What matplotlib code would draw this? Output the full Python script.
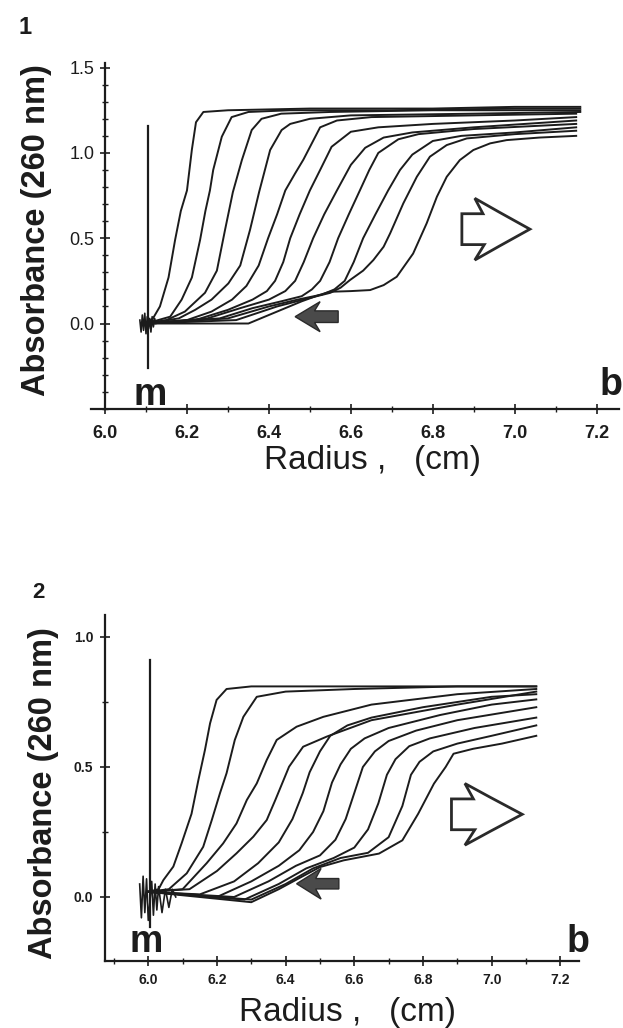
import numpy as np
import matplotlib
matplotlib.use("Agg")
import matplotlib.pyplot as plt
from matplotlib.patches import Polygon
from matplotlib.ticker import MultipleLocator

plt.rcParams['font.family'] = ['Liberation Sans', 'DejaVu Sans']

INK = '#1c1c1c'

# ---------------- panel 1 : scans (radius cm, absorbance 260 nm) ----------------
p1_r = [
    [6.10, 6.117, 6.134, 6.155, 6.171, 6.185, 6.20, 6.212, 6.222, 6.24, 6.30, 6.50, 6.80, 7.00, 7.16],
    [6.10, 6.159, 6.187, 6.212, 6.232, 6.245, 6.256, 6.264, 6.285, 6.309, 6.35, 6.45, 6.70, 7.00, 7.16],
    [6.10, 6.15, 6.195, 6.244, 6.273, 6.293, 6.312, 6.334, 6.358, 6.382, 6.43, 6.55, 6.80, 7.16],
    [6.10, 6.18, 6.22, 6.26, 6.301, 6.33, 6.354, 6.376, 6.403, 6.431, 6.452, 6.50, 6.60, 6.90, 7.16],
    [6.10, 6.20, 6.26, 6.31, 6.345, 6.375, 6.398, 6.42, 6.44, 6.464, 6.484, 6.525, 6.566, 6.65, 6.90, 7.15],
    [6.10, 6.22, 6.30, 6.36, 6.395, 6.415, 6.435, 6.452, 6.475, 6.50, 6.525, 6.553, 6.60, 6.667, 6.80, 7.00, 7.15],
    [6.10, 6.25, 6.33, 6.40, 6.44, 6.464, 6.485, 6.508, 6.535, 6.566, 6.60, 6.635, 6.68, 6.75, 6.90, 7.15],
    [6.10, 6.28, 6.36, 6.43, 6.48, 6.505, 6.525, 6.548, 6.569, 6.595, 6.622, 6.645, 6.667, 6.716, 6.765, 6.90, 7.15],
    [6.10, 6.30, 6.40, 6.47, 6.53, 6.56, 6.585, 6.607, 6.63, 6.66, 6.691, 6.72, 6.75, 6.80, 6.87, 7.00, 7.15],
    [6.10, 6.32, 6.42, 6.50, 6.55, 6.575, 6.598, 6.63, 6.655, 6.68, 6.696, 6.728, 6.761, 6.793, 6.834, 6.883, 7.00, 7.15],
    [6.10, 6.35, 6.42, 6.48, 6.52, 6.549, 6.60, 6.647, 6.68, 6.712, 6.752, 6.785, 6.81, 6.834, 6.866, 6.899, 6.94, 6.98, 7.06, 7.15],
]
p1_a = [
    [0.00, 0.03, 0.10, 0.27, 0.49, 0.66, 0.78, 1.02, 1.18, 1.24, 1.25, 1.26, 1.26, 1.27, 1.27],
    [0.00, 0.04, 0.14, 0.27, 0.49, 0.66, 0.78, 0.90, 1.095, 1.21, 1.24, 1.25, 1.25, 1.26, 1.26],
    [0.00, 0.02, 0.07, 0.18, 0.31, 0.55, 0.77, 0.958, 1.134, 1.20, 1.23, 1.24, 1.25, 1.25],
    [0.00, 0.03, 0.08, 0.14, 0.235, 0.34, 0.55, 0.77, 1.017, 1.134, 1.17, 1.20, 1.22, 1.23, 1.24],
    [0.00, 0.02, 0.07, 0.14, 0.22, 0.34, 0.50, 0.64, 0.78, 0.88, 0.96, 1.15, 1.19, 1.21, 1.22, 1.23],
    [0.00, 0.02, 0.08, 0.14, 0.19, 0.25, 0.36, 0.50, 0.64, 0.78, 0.90, 1.036, 1.124, 1.15, 1.17, 1.19, 1.21],
    [0.00, 0.03, 0.09, 0.14, 0.19, 0.25, 0.36, 0.50, 0.64, 0.78, 0.93, 1.03, 1.09, 1.12, 1.15, 1.19],
    [0.00, 0.03, 0.09, 0.13, 0.16, 0.20, 0.25, 0.36, 0.50, 0.64, 0.78, 0.90, 1.00, 1.08, 1.11, 1.14, 1.17],
    [0.00, 0.03, 0.10, 0.14, 0.17, 0.20, 0.25, 0.36, 0.50, 0.64, 0.78, 0.90, 0.99, 1.07, 1.10, 1.12, 1.15],
    [0.00, 0.02, 0.10, 0.15, 0.18, 0.21, 0.255, 0.31, 0.372, 0.45, 0.529, 0.704, 0.86, 0.978, 1.046, 1.085, 1.11, 1.13],
    [0.00, 0.00, 0.07, 0.13, 0.165, 0.186, 0.19, 0.196, 0.225, 0.274, 0.41, 0.587, 0.743, 0.86, 0.958, 1.017, 1.056, 1.075, 1.09, 1.10],
]
p1_men_r = [6.085, 6.088, 6.091, 6.094, 6.097, 6.100, 6.103, 6.106, 6.109, 6.112, 6.115, 6.118, 6.121, 6.124]
p1_men_a = [0.02, -0.05, 0.05, -0.04, 0.06, -0.06, 0.04, -0.03, 0.03, -0.05, 0.04, -0.02, 0.03, 0.00]
p1_spike_r = 6.105
p1_spike_a = [-0.26, 1.16]

# ---------------- panel 2 ----------------
p2_r = [
    [6.00, 6.03, 6.044, 6.073, 6.097, 6.126, 6.146, 6.165, 6.18, 6.199, 6.228, 6.30, 6.50, 6.80, 7.13],
    [6.00, 6.06, 6.112, 6.16, 6.185, 6.209, 6.228, 6.252, 6.277, 6.316, 6.40, 6.60, 6.90, 7.13],
    [6.00, 6.10, 6.17, 6.218, 6.257, 6.287, 6.316, 6.345, 6.374, 6.432, 6.51, 6.65, 6.90, 7.13],
    [6.00, 6.12, 6.20, 6.257, 6.306, 6.345, 6.37, 6.39, 6.41, 6.451, 6.52, 6.65, 6.90, 7.13],
    [6.00, 6.15, 6.25, 6.32, 6.38, 6.42, 6.45, 6.47, 6.50, 6.53, 6.58, 6.65, 6.80, 7.00, 7.13],
    [6.00, 6.20, 6.30, 6.38, 6.44, 6.48, 6.51, 6.535, 6.56, 6.59, 6.63, 6.70, 6.85, 7.00, 7.13],
    [6.00, 6.25, 6.35, 6.43, 6.50, 6.545, 6.575, 6.60, 6.625, 6.66, 6.70, 6.78, 6.90, 7.13],
    [6.00, 6.28, 6.38, 6.46, 6.54, 6.60, 6.64, 6.67, 6.695, 6.72, 6.76, 6.82, 6.95, 7.13],
    [6.00, 6.30, 6.40, 6.48, 6.56, 6.64, 6.70, 6.74, 6.765, 6.79, 6.83, 6.90, 7.00, 7.13],
    [6.00, 6.30, 6.38, 6.45, 6.50, 6.569, 6.672, 6.74, 6.786, 6.832, 6.866, 6.889, 6.946, 7.03, 7.13],
]
p2_a = [
    [0.02, 0.03, 0.065, 0.117, 0.206, 0.32, 0.45, 0.565, 0.668, 0.758, 0.80, 0.81, 0.81, 0.81, 0.81],
    [0.02, 0.03, 0.091, 0.193, 0.296, 0.40, 0.476, 0.604, 0.693, 0.77, 0.79, 0.80, 0.81, 0.81],
    [0.02, 0.03, 0.13, 0.206, 0.283, 0.373, 0.437, 0.527, 0.604, 0.655, 0.693, 0.74, 0.78, 0.80],
    [0.02, 0.03, 0.10, 0.168, 0.232, 0.296, 0.373, 0.437, 0.501, 0.578, 0.617, 0.68, 0.74, 0.79],
    [0.02, 0.01, 0.06, 0.13, 0.21, 0.30, 0.40, 0.48, 0.56, 0.62, 0.66, 0.69, 0.73, 0.77, 0.78],
    [0.02, 0.00, 0.06, 0.12, 0.18, 0.25, 0.33, 0.44, 0.51, 0.57, 0.61, 0.65, 0.70, 0.74, 0.76],
    [0.02, 0.00, 0.06, 0.12, 0.16, 0.22, 0.30, 0.40, 0.50, 0.56, 0.60, 0.64, 0.68, 0.73],
    [0.02, -0.01, 0.05, 0.11, 0.15, 0.19, 0.26, 0.36, 0.47, 0.53, 0.58, 0.61, 0.65, 0.69],
    [0.02, -0.01, 0.05, 0.11, 0.15, 0.17, 0.23, 0.35, 0.47, 0.52, 0.56, 0.59, 0.62, 0.66],
    [0.02, -0.02, 0.03, 0.08, 0.115, 0.141, 0.167, 0.218, 0.32, 0.436, 0.50, 0.551, 0.57, 0.59, 0.62],
]
p2_men_r = [5.975, 5.98, 5.985, 5.99, 5.995, 6.00, 6.01, 6.015, 6.02, 6.025, 6.03, 6.04, 6.05, 6.06, 6.07, 6.08]
p2_men_a = [0.05, -0.08, 0.08, -0.06, 0.07, -0.09, 0.06, -0.07, 0.05, -0.05, 0.04, -0.06, 0.03, -0.04, 0.03, 0.00]
p2_spike_r = 6.005
p2_spike_a = [-0.115, 0.91]

x_ticks = [6.0, 6.2, 6.4, 6.6, 6.8, 7.0, 7.2]
x_ticklabels = ['6.0', '6.2', '6.4', '6.6', '6.8', '7.0', '7.2']
p1_y_ticks = [0.0, 0.5, 1.0, 1.5]
p2_y_ticks = [0.0, 0.5, 1.0]


def hollow_arrow(ax, left, yc, length, height):
    # open block arrow pointing right
    L, H = length, height / 2
    pts = [(0.0, 0.50), (0.31, 0.50), (0.19, 1.0), (0.55, 0.55), (1.0, 0.0),
           (0.55, -0.55), (0.19, -1.0), (0.33, -0.50), (0.0, -0.50)]
    xy = [(left + px * L, yc + py * H) for px, py in pts]
    ax.add_patch(Polygon(xy, closed=True, fill=False, ec='#2a2a2a', lw=2.0, joinstyle='miter'))


def filled_arrow(ax, tip, yc, length, height, body_h):
    L, H = length, height / 2
    pts = [(0.0, 0.0), (0.58, H), (0.45, body_h), (1.0, body_h), (1.0, -body_h),
           (0.45, -body_h), (0.58, -H)]
    xy = [(tip + px * L, yc + py) for px, py in pts]
    ax.add_patch(Polygon(xy, closed=True, fc='#4a4a4a', ec='#2a2a2a', lw=1.0))


def style_axes(ax, xlim, ylim, yticks, lab_size, minor_y, pad_x, pad_y):
    for s in ['top', 'right']:
        ax.spines[s].set_visible(False)
    for s in ['left', 'bottom']:
        ax.spines[s].set_linewidth(1.6)
        ax.spines[s].set_color(INK)
    ax.set_xticks(x_ticks, x_ticklabels)
    ax.set_yticks(yticks, ['%.1f' % v for v in yticks])
    ax.xaxis.set_minor_locator(MultipleLocator(0.1))
    ax.yaxis.set_minor_locator(MultipleLocator(minor_y))
    ax.tick_params(which='major', direction='inout', length=7, width=1.2, color=INK,
                   labelsize=lab_size, labelcolor=INK)
    ax.tick_params(which='minor', direction='inout', length=4, width=1.0, color=INK)
    ax.tick_params(axis='x', pad=pad_x)
    ax.tick_params(axis='y', pad=pad_y)
    for lab in ax.get_xticklabels() + ax.get_yticklabels():
        lab.set_fontweight('bold')
    ax.set_xlim(*xlim)
    ax.set_ylim(*ylim)


fig = plt.figure(figsize=(6.23, 10.28), dpi=100)
W, Hpx = 623.0, 1028.0

# panel 1
ax1 = fig.add_axes([90.7 / W, 1 - 408.8 / Hpx, 528.5 / W, 346.3 / Hpx])
style_axes(ax1, (5.965, 7.255), (-0.5, 1.53), p1_y_ticks, 13, 0.1, 8, 4)
ax1.spines['left'].set_position(('data', 6.0))
for r, a in zip(p1_r, p1_a):
    ax1.plot(r, a, color=INK, lw=1.4, solid_joinstyle='round')
ax1.plot(p1_men_r, p1_men_a, color=INK, lw=1.2)
ax1.plot([p1_spike_r, p1_spike_r], p1_spike_a, color=INK, lw=1.6)
hollow_arrow(ax1, 6.871, 0.553, 0.166, 0.362)
filled_arrow(ax1, 6.464, 0.04, 0.105, 0.176, 0.034)
ax1.text(6.11, -0.478, 'm', fontsize=27, fontweight='bold', color=INK, ha='center', va='baseline')
ax1.text(7.235, -0.42, 'b', fontsize=27, fontweight='bold', color=INK, ha='center', va='baseline', clip_on=False)

# panel 2
ax2 = fig.add_axes([105.0 / W, 1 - 960.7 / Hpx, 474.2 / W, 345.8 / Hpx])
style_axes(ax2, (5.874, 7.255), (-0.245, 1.085), p2_y_ticks, 10, 0.25, 5, 5)
for r, a in zip(p2_r, p2_a):
    ax2.plot(r, a, color=INK, lw=1.4, solid_joinstyle='round')
ax2.plot(p2_men_r, p2_men_a, color=INK, lw=1.2)
ax2.plot([p2_spike_r, p2_spike_r], p2_spike_a, color=INK, lw=1.6)
hollow_arrow(ax2, 6.883, 0.318, 0.206, 0.237)
filled_arrow(ax2, 6.432, 0.051, 0.123, 0.118, 0.02)
ax2.text(5.995, -0.21, 'm', fontsize=27, fontweight='bold', color=INK, ha='center', va='baseline')
ax2.text(7.25, -0.21, 'b', fontsize=27, fontweight='bold', color=INK, ha='center', va='baseline', clip_on=False)

# labels
fig.text(37 / W, 1 - 230 / Hpx, 'Absorbance (260 nm)', rotation=90, ha='center', va='center',
         fontsize=23.5, fontweight='bold', color=INK)
fig.text(44 / W, 1 - 793 / Hpx, 'Absorbance (260 nm)', rotation=90, ha='center', va='center',
         fontsize=23.5, fontweight='bold', color=INK)
fig.text(373 / W, 1 - 461 / Hpx, 'Radius ,   (cm)', ha='center', va='center', fontsize=24, color=INK)
fig.text(348 / W, 1 - 1013 / Hpx, 'Radius ,   (cm)', ha='center', va='center', fontsize=24, color=INK)
fig.text(25 / W, 1 - 27 / Hpx, '1', ha='center', va='center', fontsize=17, fontweight='bold', color=INK)
fig.text(38 / W, 1 - 592 / Hpx, '2', ha='center', va='center', fontsize=16, fontweight='bold', color=INK)

fig.savefig('out.png', dpi=100, facecolor='white')
